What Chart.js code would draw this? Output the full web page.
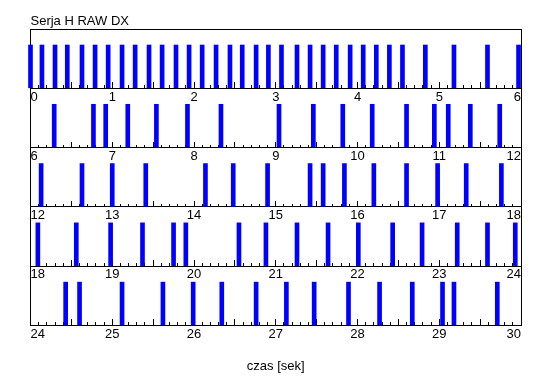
<!DOCTYPE html>
<html><head><meta charset="utf-8">
<script src="https://cdn.jsdelivr.net/npm/chart.js@4.4.1/dist/chart.umd.min.js"></script>
<style>html,body{margin:0;padding:0;background:#fff;} canvas{display:block;}</style>
</head><body>
<canvas id="c" width="550" height="389"></canvas>
<script>
const chartTitle = 'Serja H RAW DX';
const axisTitle = 'czas [sek]';
const rowStarts = [0, 6, 12, 18, 24];
const rowSpan = 6;
const spikeValue = 1;
const rowTimes0 = [0.00, 0.14, 0.30, 0.45, 0.63, 0.79, 0.95, 1.12, 1.28, 1.45, 1.61, 1.78, 1.94, 2.10, 2.27, 2.44, 2.59, 2.76, 2.91, 3.07, 3.26, 3.42, 3.58, 3.74, 3.91, 4.07, 4.23, 4.39, 4.55, 4.83, 5.18, 5.59, 5.97];
const rowTimes1 = [6.29, 6.77, 6.92, 7.19, 7.54, 7.92, 8.33, 9.04, 9.46, 9.82, 10.18, 10.60, 10.94, 11.11, 11.38, 11.74];
const rowTimes2 = [12.13, 12.63, 13.00, 13.41, 14.14, 14.48, 14.90, 15.42, 15.58, 15.84, 16.20, 16.60, 16.98, 17.33, 17.76];
const rowTimes3 = [18.09, 18.56, 18.98, 19.37, 19.75, 19.90, 20.55, 20.88, 21.26, 21.64, 22.01, 22.43, 22.79, 23.22, 23.59, 23.93];
const rowTimes4 = [24.43, 24.60, 25.12, 25.62, 25.99, 26.34, 26.76, 27.13, 27.47, 27.89, 28.27, 28.67, 29.04, 29.18, 29.71];
const rowTimes = [rowTimes0, rowTimes1, rowTimes2, rowTimes3, rowTimes4];
const yMax = 1.37;

Chart.defaults.font.family = "'Liberation Sans', Arial, sans-serif";
Chart.defaults.font.size = 13;
Chart.defaults.color = '#000';

const tickList = (start, step, n) => Array.from({length: n + 1}, (_, k) => ({value: +(start + k * step).toFixed(2)}));
const noGrid = {display: true, offset: false, drawOnChartArea: false, drawTicks: false, color: 'rgba(0,0,0,0)'};
const blackBorder = {display: true, color: '#000', width: 1};

const scales = {};
const datasets = [];
rowStarts.forEach((start, i) => {
  scales['y' + i] = {
    type: 'linear', axis: 'y', position: 'left', stack: 'rows', stackWeight: 1,
    weight: rowStarts.length - i, min: 0, max: yMax,
    ticks: {display: false}, grid: noGrid, border: blackBorder
  };
});
rowStarts.forEach((start, i) => {
  const pos = {}; pos['y' + i] = 0;
  const end = start + rowSpan;
  scales['xl' + i] = {
    type: 'linear', axis: 'x', position: pos, min: start, max: end, offset: false,
    afterBuildTicks: s => { s.ticks = tickList(start, 1, rowSpan); },
    ticks: {display: true, align: 'inner', padding: 1, maxRotation: 0, minRotation: 0, autoSkip: false,
            color: '#000', font: {size: 13}, callback: v => String(v)},
    grid: noGrid, border: blackBorder
  };
  scales['xm' + i] = {
    type: 'linear', axis: 'x', position: pos, min: start, max: end, offset: false,
    afterBuildTicks: s => { s.ticks = tickList(start, 0.1, rowSpan * 10); },
    ticks: {display: false},
    grid: {display: true, offset: false, drawOnChartArea: false, drawTicks: true, tickLength: -3,
           tickColor: '#000', tickWidth: 1, color: 'rgba(0,0,0,0)'},
    border: {display: false}
  };
  scales['xh' + i] = {
    type: 'linear', axis: 'x', position: pos, min: start, max: end, offset: false,
    afterBuildTicks: s => { s.ticks = tickList(start, 0.5, rowSpan * 2); },
    ticks: {display: false},
    grid: {display: true, offset: false, drawOnChartArea: false, drawTicks: true, tickLength: -6,
           tickColor: '#000', tickWidth: 1, color: 'rgba(0,0,0,0)'},
    border: {display: false}
  };
  datasets.push({
    type: 'bar',
    data: rowTimes[i].map(t => ({x: t, y: spikeValue})),
    xAxisID: 'xl' + i, yAxisID: 'y' + i,
    backgroundColor: '#0000ff', borderWidth: 0, barThickness: 4, grouped: false, clip: false
  });
});
scales.xt = {type: 'linear', axis: 'x', position: 'top', min: 0, max: 1, ticks: {display: false}, grid: noGrid, border: blackBorder};
scales.yr = {type: 'linear', axis: 'y', position: 'right', min: 0, max: 1, ticks: {display: false}, grid: noGrid, border: blackBorder};

new Chart(document.getElementById('c'), {
  type: 'bar',
  data: {datasets},
  options: {
    responsive: false,
    animation: false,
    devicePixelRatio: 1,
    layout: {padding: {left: 30.5, right: 29, top: 0, bottom: 0}},
    scales,
    plugins: {
      legend: {display: false},
      tooltip: {enabled: false},
      title: {display: true, text: chartTitle, align: 'start', color: '#000',
              font: {size: 13, weight: 'normal'}, padding: {top: 13.4, bottom: 0}},
      subtitle: {display: true, text: axisTitle, position: 'bottom', color: '#000',
                 font: {size: 13, weight: 'normal'}, padding: {top: 33, bottom: 15}}
    }
  }
});
</script>
</body></html>
